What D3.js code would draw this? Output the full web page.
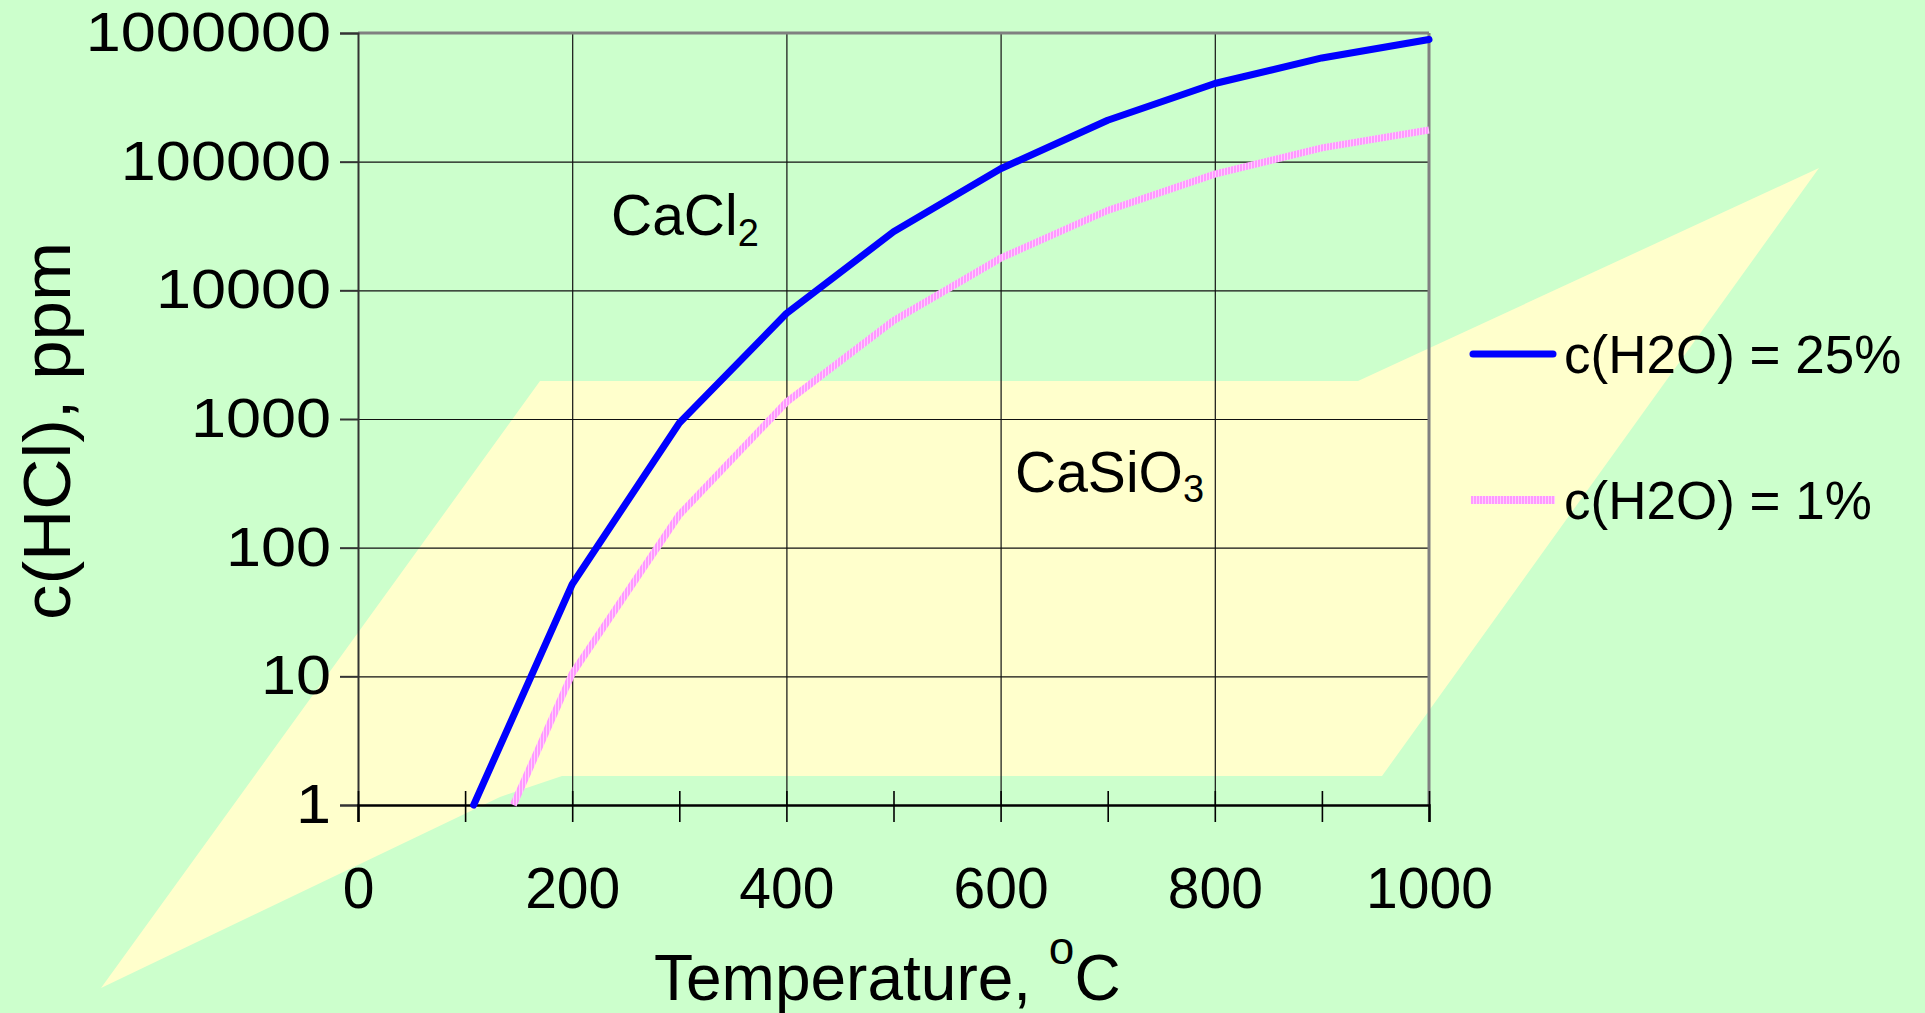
<!DOCTYPE html>
<html>
<head>
<meta charset="utf-8">
<script src="https://cdn.jsdelivr.net/npm/d3@7"></script>
<style>
body { margin: 0; background: #CCFFCC; }
svg { display: block; font-family: "Liberation Sans", Arial, sans-serif; }
</style>
</head>
<body>
<svg id="chart"></svg>
<script>
// data
const tempBlue = [108, 200, 300, 400, 500, 600, 700, 800, 900, 1000]
const hclBlue = [1, 52, 930, 6600, 28500, 88000, 210000, 405000, 640000, 890000]
const tempPink = [145, 200, 300, 400, 500, 600, 700, 800, 900, 1000]
const hclPink = [1, 10.5, 180, 1350, 5800, 17800, 41800, 80000, 128000, 176000]

const xTicks = d3.range(0, 1001, 100)
const yTicks = [1, 10, 100, 1000, 10000, 100000, 1000000]
const seriesNames = ["c(H2O) = 25%", "c(H2O) = 1%"]

// decorative sheet behind the plot (page pixels)
const sheet = [[101, 988], [540, 381], [1358, 381], [1819, 168], [1382, 776], [562, 776], [500, 797]]

const width = 1925,
    height = 1013
const margin = { top: 33, right: 496, bottom: 208, left: 358 }

const x = d3.scaleLinear()
    .domain([0, 1000])
    .range([margin.left, width - margin.right])
const y = d3.scaleLog()
    .domain([1, 1000000])
    .range([height - margin.bottom, margin.top])

const svg = d3.select("#chart")
    .attr("width", width)
    .attr("height", height)

const defs = svg.append("defs")
const pat = defs.append("pattern")
    .attr("id", "pinkStripe")
    .attr("patternUnits", "userSpaceOnUse")
    .attr("width", 3).attr("height", 3)
pat.append("rect").attr("width", 3).attr("height", 3).attr("fill", "#FF99FF")
pat.append("rect").attr("width", 1).attr("height", 3).attr("fill", "#FFCCFF")

svg.append("polygon")
    .attr("points", sheet.map(p => p.join(",")).join(" "))
    .attr("fill", "#FFFFCC")

// grid
const gx = svg.append("g")
    .attr("transform", `translate(0,${height - margin.bottom})`)
    .call(d3.axisBottom(x).tickValues([200, 400, 600, 800]).tickSize(-(height - margin.top - margin.bottom)).tickFormat(""))
gx.select(".domain").remove()
gx.selectAll("line").attr("stroke", "#111").attr("stroke-width", 1.2)

const gy = svg.append("g")
    .attr("transform", `translate(${margin.left},0)`)
    .call(d3.axisLeft(y).tickValues(yTicks.slice(1, -1)).tickSize(-(width - margin.left - margin.right)).tickFormat(""))
gy.select(".domain").remove()
gy.selectAll("line").attr("stroke", "#111").attr("stroke-width", 1.2)

// frame
svg.append("line")
    .attr("x1", x(0)).attr("x2", x(1000)).attr("y1", y(1000000)).attr("y2", y(1000000))
    .attr("stroke", "#808080").attr("stroke-width", 3)
svg.append("line")
    .attr("x1", x(1000)).attr("x2", x(1000)).attr("y1", y(1000000)).attr("y2", y(1))
    .attr("stroke", "#808080").attr("stroke-width", 3)

// y axis
const yAxis = svg.append("g")
    .attr("transform", `translate(${margin.left},0)`)
    .call(d3.axisLeft(y).tickValues(yTicks).tickSize(18).tickPadding(9).tickFormat(d3.format("d")))
yAxis.select(".domain").attr("stroke", "#333").attr("stroke-width", 2)
yAxis.selectAll("line").attr("stroke", "#333").attr("stroke-width", 2)
yAxis.selectAll("text")
    .attr("font-size", 55)
    .attr("fill", "#000")
    .attr("font-family", "'Liberation Sans', Arial, sans-serif")
    .attr("textLength", d => String(d).length * 0.556 * 63)
    .attr("lengthAdjust", "spacingAndGlyphs")

// x axis
const xAxis = svg.append("g")
    .attr("transform", `translate(0,${height - margin.bottom})`)
    .call(d3.axisBottom(x).tickValues(xTicks).tickSize(17).tickPadding(46).tickFormat(d => d % 200 === 0 ? d : ""))
xAxis.select(".domain").attr("stroke", "#000").attr("stroke-width", 2.5)
xAxis.selectAll("line").attr("y1", -14).attr("stroke", "#000").attr("stroke-width", 1.6)
xAxis.selectAll("text")
    .attr("font-size", 57)
    .attr("fill", "#000")
    .attr("font-family", "'Liberation Sans', Arial, sans-serif")

// series
const line = d3.line().x(d => x(d[0])).y(d => y(d[1]))
const blueData = tempBlue.map((t, i) => [t, hclBlue[i]])
const pinkData = tempPink.map((t, i) => [t, hclPink[i]])

svg.append("path")
    .datum(pinkData)
    .attr("d", line)
    .attr("fill", "none")
    .attr("stroke", "url(#pinkStripe)")
    .attr("stroke-width", 7)
svg.append("path")
    .datum(blueData)
    .attr("d", line)
    .attr("fill", "none")
    .attr("stroke", "#0000FF")
    .attr("stroke-width", 7)
    .attr("stroke-linejoin", "round")
    .attr("stroke-linecap", "round")

// phase labels
const t1 = svg.append("text").attr("x", 611).attr("y", 235).attr("font-size", 57)
t1.append("tspan").text("CaCl")
t1.append("tspan").attr("font-size", 38).attr("dy", 11).text("2")
const t2 = svg.append("text").attr("x", 1015).attr("y", 492).attr("font-size", 57)
t2.append("tspan").text("CaSiO")
t2.append("tspan").attr("font-size", 38).attr("dy", 10).text("3")

// legend
const leg = svg.append("g")
leg.append("line").attr("x1", 1473).attr("x2", 1553).attr("y1", 354).attr("y2", 354)
    .attr("stroke", "#0000FF").attr("stroke-width", 7).attr("stroke-linecap", "round")
leg.append("line").attr("x1", 1471).attr("x2", 1555).attr("y1", 500).attr("y2", 500)
    .attr("stroke", "url(#pinkStripe)").attr("stroke-width", 8)
leg.selectAll(".lt").data(seriesNames).join("text")
    .attr("class", "lt")
    .attr("x", 1564)
    .attr("y", (d, i) => [373, 519][i])
    .attr("font-size", 53)
    .text(d => d)

// axis titles
const xt = svg.append("text").attr("x", 654).attr("y", 1000).attr("font-size", 64)
xt.append("tspan").text("Temperature, ")
xt.append("tspan").attr("font-size", 46).attr("dy", -36).text("o")
xt.append("tspan").attr("dy", 36).text("C")

svg.append("text")
    .attr("transform", "translate(70,431) rotate(-90)")
    .attr("text-anchor", "middle")
    .attr("font-size", 66)
    .attr("textLength", 378)
    .attr("lengthAdjust", "spacingAndGlyphs")
    .text("c(HCl), ppm")
</script>
</body>
</html>
